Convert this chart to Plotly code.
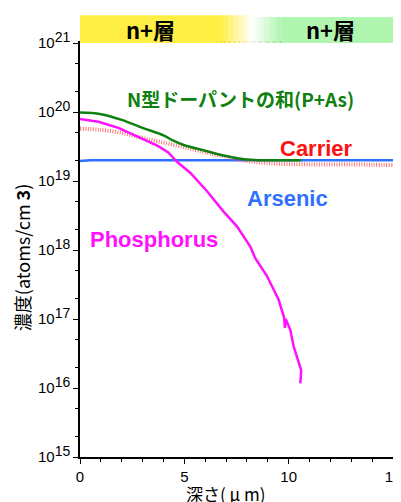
import plotly.graph_objects as go

# ---- data ----
sum_x = [0, 1, 2, 3, 4, 4.5, 5, 6, 7, 8, 9, 10, 10.6]
sum_y = [9.8e19, 9.3e19, 7.7e19, 5.9e19, 4.6e19, 3.8e19, 3.3e19, 2.75e19, 2.3e19, 2.05e19, 2.0e19, 2.0e19, 2.0e19]

car_x = [0, 1, 2, 3, 4, 5, 6, 7, 8, 9, 10, 11, 12, 13, 14, 15]
car_y = [5.75e19, 5.5e19, 5.0e19, 4.2e19, 3.6e19, 3.1e19, 2.6e19, 2.25e19, 1.95e19, 1.82e19,
         1.76e19, 1.74e19, 1.74e19, 1.74e19, 1.72e19, 1.70e19]

as_x = [0, 0.5, 2, 4, 6, 8, 10, 12, 14, 15]
as_y = [1.95e19, 2.0e19, 2.0e19, 2.0e19, 2.0e19, 2.0e19, 2.0e19, 2.0e19, 2.0e19, 2.0e19]

p_x = [0, 0.88, 1.84, 2.79, 3.75, 4.23, 4.65, 5.28, 6.09, 6.88, 7.52, 8.16, 8.4, 8.96, 9.52, 9.78,
       9.82, 9.86, 10.08, 10.24, 10.4, 10.5, 10.6, 10.56]
p_y = [7.9e19, 7.2e19, 5.9e19, 4.4e19, 3.2e19, 2.6e19, 1.9e19, 1.32e19, 7.1e18, 3.6e18, 2.2e18,
       1.12e18, 7.6e17, 4.2e17, 1.9e17, 1.05e17, 7.4e16, 1.0e17, 6.9e16, 4.0e16, 2.9e16,
       2.2e16, 1.8e16, 1.17e16]

ytick_vals = [1e15, 1e16, 1e17, 1e18, 1e19, 1e20, 1e21]
ytick_exp = ["15", "16", "17", "18", "19", "20", "21"]
xtick_vals = [0, 5, 10, 15]

ytick_text = ["10<sup><span style='font-size:14px'>%s</span></sup>" % e for e in ytick_exp]

fig = go.Figure()
fig.add_trace(go.Scatter(x=as_x, y=as_y, mode="lines", line=dict(color="#3070ff", width=2.5)))
fig.add_trace(go.Scatter(x=car_x, y=car_y, mode="lines", line_shape="spline",
                         line=dict(color="rgba(255,60,60,0.7)", width=4, dash="1px,1.5px")))
fig.add_trace(go.Scatter(x=sum_x, y=sum_y, mode="lines", line_shape="spline",
                         line=dict(color="#108010", width=2.5)))
fig.add_trace(go.Scatter(x=p_x, y=p_y, mode="lines", line=dict(color="#ff10ff", width=2.5)))

# top band: yellow -> white -> green
shapes = []
shapes.append(dict(type="rect", xref="x", yref="paper", x0=0, x1=6.8, y0=1.0, y1=1.067,
                   fillcolor="#ffee44", line=dict(width=0), layer="above"))
n = 12
def mix(c1, c2, t):
    return "rgb(%d,%d,%d)" % tuple(round(a + (b - a) * t) for a, b in zip(c1, c2))
yel = (255, 238, 68); wh = (255, 255, 255); gr = (176, 245, 176)
for i in range(n):
    xa = 6.8 + (8.25 - 6.8) * i / n
    xb = 6.8 + (8.25 - 6.8) * (i + 1) / n
    shapes.append(dict(type="rect", xref="x", yref="paper", x0=xa, x1=xb + 0.01, y0=1.0, y1=1.067,
                       fillcolor=mix(yel, wh, (i + 0.5) / n), line=dict(width=0), layer="above"))
for i in range(n):
    xa = 8.25 + (9.6 - 8.25) * i / n
    xb = 8.25 + (9.6 - 8.25) * (i + 1) / n
    shapes.append(dict(type="rect", xref="x", yref="paper", x0=xa, x1=xb + 0.01, y0=1.0, y1=1.063,
                       fillcolor=mix(wh, gr, (i + 0.5) / n), line=dict(width=0), layer="above"))
shapes.append(dict(type="rect", xref="x", yref="paper", x0=9.6, x1=15, y0=1.0, y1=1.063,
                   fillcolor="#b0f5b0", line=dict(width=0), layer="above"))

jp = "Noto Sans CJK JP"
ann = [
    dict(x=3.4, y=1.033, xref="x", yref="paper", text="<b>n+層</b>", showarrow=False,
         font=dict(family=jp, size=22, color="black"), yanchor="middle"),
    dict(x=12.0, y=1.033, xref="x", yref="paper", text="<b>n+層</b>", showarrow=False,
         font=dict(family=jp, size=22, color="black"), yanchor="middle"),
    dict(x=7.7, y=0.865, xref="x", yref="paper", text="<b>N型ドーパントの和(P+As)</b>", showarrow=False,
         font=dict(family=jp, size=19, color="#108010"), yanchor="middle"),
    dict(x=11.35, y=0.746, xref="x", yref="paper", text="<b>Carrier</b>", showarrow=False,
         font=dict(family="Liberation Sans", size=22, color="#ff1010"), yanchor="middle"),
    dict(x=9.93, y=0.625, xref="x", yref="paper", text="<b>Arsenic</b>", showarrow=False,
         font=dict(family="Liberation Sans", size=22, color="#3070ff"), yanchor="middle"),
    dict(x=3.55, y=0.525, xref="x", yref="paper", text="<b>Phosphorus</b>", showarrow=False,
         font=dict(family="Liberation Sans", size=22, color="#ff10ff"), yanchor="middle"),
    dict(x=-0.183, y=0.482, xref="paper", yref="paper", text="濃度(atoms/cm <b>3</b>)",
         textangle=-90, showarrow=False, font=dict(family=jp, size=18, color="black"),
         xanchor="center", yanchor="middle"),
    dict(x=0.465, y=-0.087, xref="paper", yref="paper", text="深さ( μ m)", showarrow=False,
         font=dict(family=jp, size=17, color="black"), yanchor="middle"),
]

# the page adds an 8px body margin, so margins are shifted to land the plot where the reference has it
fig.update_layout(
    width=401, height=502, showlegend=False,
    margin=dict(l=72, r=16, t=35, b=53, autoexpand=False),
    paper_bgcolor="white", plot_bgcolor="white",
    shapes=shapes, annotations=ann,
    font=dict(family="Liberation Sans", size=14, color="black"),
)
fig.update_xaxes(range=[0, 15], tickvals=xtick_vals, ticks="outside", ticklen=5, tickwidth=1,
                 tickcolor="black", showgrid=False, zeroline=False, showline=True, linecolor="black",
                 linewidth=1.5, mirror=True, automargin=False,
                 minor=dict(dtick=1, ticks="outside", ticklen=3, tickcolor="black", showgrid=False),
                 tickfont=dict(family="Liberation Sans", size=15))
fig.update_yaxes(type="log", range=[15, 21], tickvals=ytick_vals, ticktext=ytick_text,
                 ticks="outside", ticklen=5, tickwidth=1, tickcolor="black", showgrid=False,
                 zeroline=False, showline=True, linecolor="black", linewidth=1.5, mirror=True,
                 automargin=False,
                 minor=dict(ticks="outside", ticklen=3, tickcolor="black", showgrid=False),
                 tickfont=dict(family="Liberation Sans", size=15))

fig.write_html("out.html")
